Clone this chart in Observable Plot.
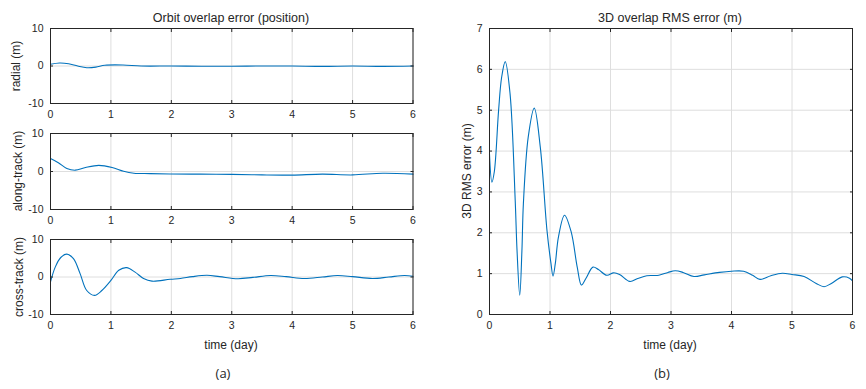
<!DOCTYPE html>
<html><head><meta charset="utf-8">
<script src="https://cdn.jsdelivr.net/npm/d3@7"></script>
<script src="https://cdn.jsdelivr.net/npm/@observablehq/plot@0.6"></script>
<style>
body{margin:0;background:#fff;}
#c{position:relative;width:866px;height:389px;font-family:"Liberation Sans",Arial,sans-serif;color:#262626;overflow:hidden;}
#c svg{position:absolute;}
.t{position:absolute;white-space:nowrap;font-size:12px;transform:translate(-50%,-50%);line-height:1;}
.h{font-size:12.5px;}
.r{transform:translate(-50%,-50%) rotate(-90deg);}
.cap{font-size:13px;font-family:"Open Sans","Liberation Sans",sans-serif;}
</style></head><body><div id="c"></div>
<script>
// ---- data ----
const xTicks = [0, 1, 2, 3, 4, 5, 6];
const posTicks = [-10, 0, 10];
const rmsTicks = [0, 1, 2, 3, 4, 5, 6, 7];

const tRadial = [0, 0.15, 0.3, 0.45, 0.6, 0.75, 0.9, 1.2, 1.5, 2, 2.5, 3, 3.5, 4, 4.5, 5, 5.5, 6];
const radial  = [0.45, 0.8, 0.6, 0.0, -0.45, -0.3, 0.2, 0.27, 0.0, 0.0, -0.05, -0.05, 0.0, 0.0, -0.1, 0.0, -0.1, 0.0];

const tAlong = [0, 0.13, 0.27, 0.41, 0.58, 0.8, 1.02, 1.21, 1.38, 1.65, 1.98, 2.48, 3.0, 3.5, 4.0, 4.5, 5.0, 5.5, 6.0];
const along  = [3.4, 2.3, 0.8, 0.35, 1.05, 1.6, 1.05, 0.05, -0.45, -0.55, -0.65, -0.7, -0.75, -0.9, -0.95, -0.7, -0.9, -0.45, -0.7];

const tCross = [0, 0.08, 0.17, 0.27, 0.38, 0.49, 0.6, 0.73, 0.85, 1.0, 1.13, 1.26, 1.4, 1.54, 1.68, 1.98, 2.15, 2.35, 2.59, 2.8, 3.1, 3.35, 3.64, 3.9, 4.2, 4.5, 4.75, 5.0, 5.33, 5.6, 5.86, 6.0];
const cross  = [-1.3, 2.7, 5.2, 6.1, 4.9, 0.9, -3.6, -4.9, -3.6, -0.9, 1.8, 2.5, 1.3, -0.4, -1.1, -0.6, -0.4, 0.1, 0.45, 0.1, -0.45, -0.1, 0.4, 0.1, -0.4, 0.0, 0.4, 0.1, -0.4, 0.0, 0.4, 0.2];

const tRms = [0, 0.04, 0.08, 0.15, 0.2, 0.26, 0.34, 0.425, 0.455, 0.5, 0.536, 0.56, 0.64, 0.74, 0.84, 0.95, 1.016, 1.05, 1.088, 1.14, 1.24, 1.35, 1.45, 1.52, 1.6, 1.71, 1.8, 1.94, 2.05, 2.15, 2.32, 2.45, 2.6, 2.8, 2.95, 3.07, 3.2, 3.38, 3.55, 3.8, 4.0, 4.2, 4.35, 4.47, 4.65, 4.84, 5.0, 5.2, 5.4, 5.53, 5.65, 5.83, 5.95, 6.0];
const rms  = [3.93, 3.24, 3.5, 4.99, 5.8, 6.19, 5.4, 2.79, 1.57, 0.47, 1.57, 2.71, 4.34, 5.05, 4.09, 2.06, 1.25, 0.94, 1.25, 1.9, 2.43, 2.02, 1.16, 0.72, 0.9, 1.16, 1.1, 0.96, 1.02, 0.98, 0.81, 0.88, 0.95, 0.96, 1.03, 1.07, 1.03, 0.93, 0.97, 1.03, 1.06, 1.06, 0.96, 0.86, 0.95, 1.01, 0.98, 0.93, 0.76, 0.68, 0.76, 0.92, 0.89, 0.82];

// ---- drawing ----
const root = document.getElementById("c");
const zip = (ts, vs) => ts.map((t, i) => ({t, v: vs[i]}));

function panel({ts, vs, yDomain, yTicks, left, top, width, height, mt, mb, ml, mr}) {
  const p = Plot.plot({
    width, height, marginTop: mt, marginBottom: mb, marginLeft: ml, marginRight: mr,
    style: {fontFamily: '"Liberation Sans", Arial, sans-serif', fontSize: "10.5px", color: "#262626", background: "transparent", overflow: "visible"},
    x: {domain: [0, 6], label: null},
    y: {domain: yDomain, label: null},
    marks: [
      Plot.gridX(xTicks, {stroke: "#dedede", strokeOpacity: 1}),
      Plot.gridY(yTicks, {stroke: "#dedede", strokeOpacity: 1}),
      Plot.line(zip(ts, vs), {x: "t", y: "v", stroke: "#0072BD", strokeWidth: 1.1, curve: "catmull-rom"}),
      Plot.frame({stroke: "#262626", strokeWidth: 1}),
      Plot.axisX({ticks: xTicks, anchor: "bottom", tickSize: -3, tickPadding: 10, tickFormat: d => String(d), label: null, stroke: "#262626"}),
      Plot.axisX({ticks: xTicks, anchor: "top", tickSize: -3, tickFormat: () => "", label: null, stroke: "#262626"}),
      Plot.axisY({ticks: yTicks, anchor: "left", tickSize: -3, tickPadding: 10, tickFormat: d => String(d), label: null, stroke: "#262626"}),
      Plot.axisY({ticks: yTicks, anchor: "right", tickSize: -3, tickFormat: () => "", label: null, stroke: "#262626"})
    ]
  });
  p.style.left = left + "px";
  p.style.top = top + "px";
  root.appendChild(p);
}

panel({ts: tRadial, vs: radial, yDomain: [-10, 10], yTicks: posTicks, left: 0, top: 0, width: 430, height: 130, mt: 28, mb: 27, ml: 50, mr: 17.5});
panel({ts: tAlong, vs: along, yDomain: [-10, 10], yTicks: posTicks, left: 0, top: 105, width: 430, height: 131, mt: 28, mb: 27, ml: 50, mr: 17.5});
panel({ts: tCross, vs: cross, yDomain: [-10, 10], yTicks: posTicks, left: 0, top: 211, width: 430, height: 178, mt: 28, mb: 75, ml: 50, mr: 17.5});
panel({ts: tRms, vs: rms, yDomain: [0, 7], yTicks: rmsTicks, left: 440, top: 0, width: 426, height: 389, mt: 28, mb: 75, ml: 49, mr: 14});

function label(text, x, y, cls) {
  const d = document.createElement("div");
  d.className = "t" + (cls ? " " + cls : "");
  d.textContent = text;
  d.style.left = x + "px";
  d.style.top = y + "px";
  root.appendChild(d);
}
label("Orbit overlap error (position)", 231, 18, "h");
label("3D overlap RMS error (m)", 670, 18, "h");
label("radial (m)", 16, 65.5, "r");
label("along-track (m)", 18, 171, "r");
label("cross-track (m)", 19, 276.5, "r");
label("3D RMS error (m)", 467, 171, "r");
label("time (day)", 231, 345);
label("time (day)", 670, 345);
label("(a)", 223, 373, "cap");
label("(b)", 662, 373, "cap");
</script></body></html>
